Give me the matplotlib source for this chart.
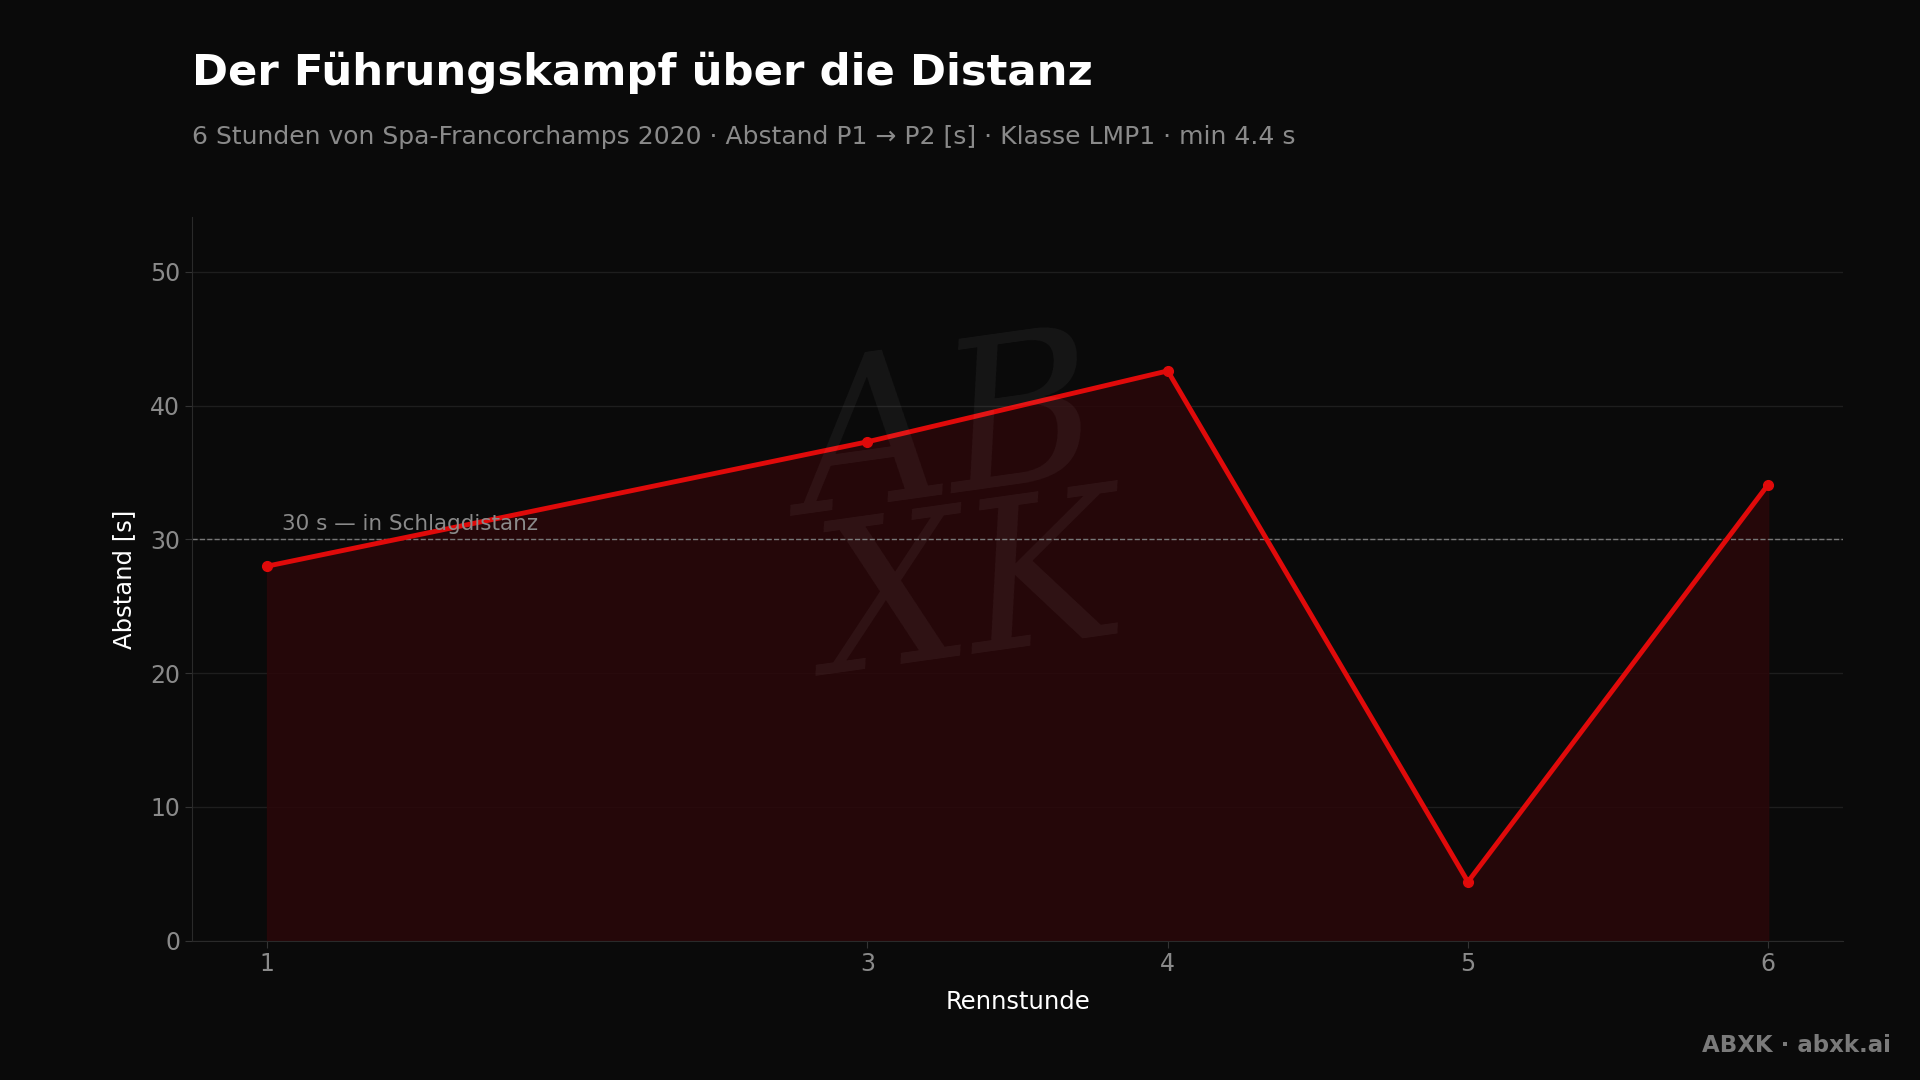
import matplotlib.pyplot as plt

plt.rcParams['font.family'] = ['DejaVu Sans']

stunden = [1, 3, 4, 5, 6]
abstand = [28.0, 37.3, 42.6, 4.4, 34.1]
yticks = [0, 10, 20, 30, 40, 50]

bg = '#0a0a0a'
rot = '#e00a0a'

fig = plt.figure(figsize=(19.2, 10.8), dpi=100, facecolor=bg)
ax = fig.add_axes([0.100, 0.129, 0.860, 0.670], facecolor=bg)

# Wasserzeichen
fig.text(0.50, 0.52, 'AB\nXK', fontsize=150, color='#ffffff', alpha=0.05,
         ha='center', va='center', style='italic', fontfamily='DejaVu Serif',
         linespacing=0.75, rotation=8)

ax.fill_between(stunden, abstand, 0, color='#2a0709', alpha=0.85, zorder=1)
ax.plot(stunden, abstand, color=rot, lw=3.5, marker='o', ms=7, zorder=3)

ax.axhline(30, color='#777777', lw=1, ls='--', zorder=2)
ax.text(1.05, 30.4, '30 s — in Schlagdistanz', color='#8a8a8a', fontsize=15.5,
        va='bottom', ha='left')

ax.set_xlim(0.75, 6.25)
ax.set_ylim(0, 54.1)
ax.set_xticks(stunden)
ax.set_yticks(yticks)
ax.grid(axis='y', color='#1e1e1e', lw=1)
ax.set_axisbelow(True)
ax.tick_params(axis='both', colors='#333333', labelcolor='#8a8a8a', labelsize=17, length=5)
for s in ['top', 'right']:
    ax.spines[s].set_visible(False)
for s in ['left', 'bottom']:
    ax.spines[s].set_color('#2a2a2a')

ax.set_xlabel('Rennstunde', color='white', fontsize=17.5, labelpad=10)
ax.set_ylabel('Abstand [s]', color='white', fontsize=17.5, labelpad=10)

fig.text(0.100, 0.933, 'Der Führungskampf über die Distanz', color='white',
         fontsize=31.2, fontweight='bold', va='center', ha='left')
fig.text(0.100, 0.873, '6 Stunden von Spa-Francorchamps 2020 · Abstand P1 → P2 [s] · Klasse LMP1 · min 4.4 s',
         color='#8a8a8a', fontsize=18, va='center', ha='left')
fig.text(0.985, 0.032, 'ABXK · abxk.ai', color='#7a7a7a', fontsize=16.5,
         fontweight='bold', ha='right', va='center')

fig.savefig('out.png', dpi=100, facecolor=bg)
